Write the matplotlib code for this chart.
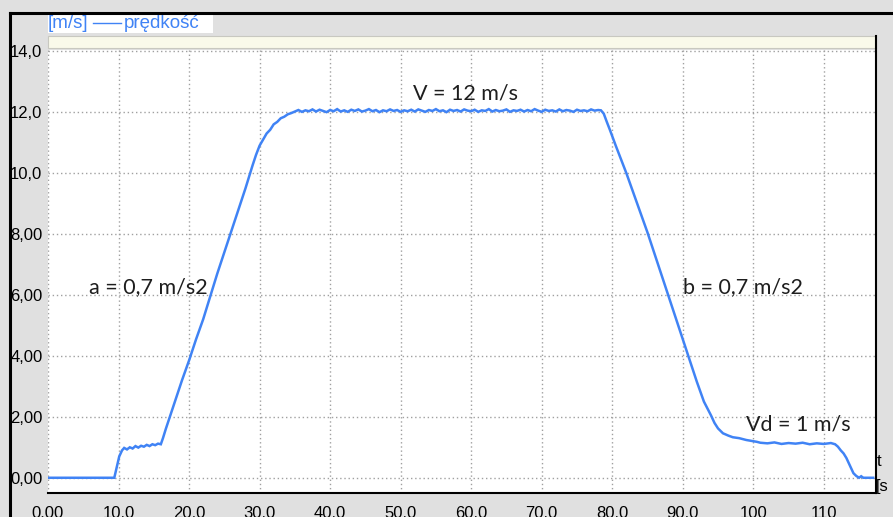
import matplotlib
matplotlib.use("Agg")
import matplotlib.pyplot as plt
from matplotlib.patches import Rectangle
from matplotlib.lines import Line2D

# przebieg predkosci
t_start = [0, 9.4, 9.7, 10.1, 10.5, 10.8, 11.2, 11.6, 12.0, 12.4, 12.8, 13.2, 13.6,
           14.0, 14.4, 14.8, 15.2, 15.6, 16.0, 16.3, 16.7, 17.2, 18.0, 19.0, 20.0,
           21.0, 22.0, 23.0, 24.0, 25.0, 26.0, 27.0, 28.0, 29.0, 29.5, 30.0, 30.5,
           31.0, 31.5, 32.0, 32.5, 33.0, 33.5, 34.0, 34.5]
v_start = [0, 0, 0.3, 0.7, 0.9, 0.98, 0.93, 1.0, 0.96, 1.04, 0.99, 1.05, 1.02,
           1.08, 1.04, 1.1, 1.07, 1.12, 1.1, 1.3, 1.6, 1.95, 2.5, 3.2, 3.85,
           4.55, 5.2, 5.95, 6.7, 7.4, 8.1, 8.8, 9.5, 10.25, 10.6, 10.9, 11.1,
           11.3, 11.42, 11.6, 11.68, 11.8, 11.85, 11.93, 11.97]

t_flat = [35.0 + 0.5 * i for i in range(87)]
v_flat = [12.02, 12.07, 12.01, 12.06, 12.03, 12.09, 12.02, 12.08, 12.04, 12.0,
          12.07, 12.03, 12.1, 12.02, 12.06, 12.01, 12.08, 12.04, 12.09, 12.02,
          12.05, 12.1, 12.03, 12.07, 12.0, 12.06, 12.03, 12.09, 12.04, 12.07,
          12.01, 12.06, 12.03, 12.08, 12.02, 12.09, 12.05, 12.01, 12.07, 12.04,
          12.1, 12.03, 12.06, 12.0, 12.08, 12.04, 12.07, 12.02, 12.09, 12.05,
          12.03, 12.08, 12.01, 12.06, 12.04, 12.1, 12.02, 12.07, 12.03, 12.05,
          12.09, 12.01, 12.06, 12.04, 12.08, 12.02, 12.07, 12.03, 12.1, 12.05,
          12.01, 12.08, 12.04, 12.06, 12.02, 12.09, 12.03, 12.07, 12.05, 12.01,
          12.08, 12.04, 12.06, 12.03, 12.09, 12.05, 12.07]

t_end = [78.4, 78.8, 79.2, 79.7, 80.5, 81.3, 82.0, 83.0, 84.0, 85.0, 86.0, 87.0,
         88.0, 89.0, 90.0, 91.0, 92.0, 93.0, 94.0, 94.5, 95.0, 95.7, 96.5, 97.1,
         98.0, 99.0, 99.5, 100.5, 101.0, 102.0, 103.0, 104.0, 105.0, 106.0,
         107.0, 108.0, 109.0, 110.0, 111.0, 111.6, 112.0, 112.4, 112.8, 113.2,
         113.7, 114.2, 114.6, 115.0, 115.3, 115.6, 117.0]
v_end = [12.06, 11.95, 11.7, 11.4, 10.9, 10.42, 10.0, 9.35, 8.7, 8.05, 7.35, 6.65,
         5.95, 5.25, 4.55, 3.85, 3.15, 2.5, 2.05, 1.8, 1.62, 1.46, 1.38, 1.33,
         1.3, 1.24, 1.22, 1.18, 1.15, 1.13, 1.16, 1.11, 1.14, 1.12, 1.15, 1.1,
         1.13, 1.11, 1.14, 1.1, 1.02, 0.9, 0.8, 0.65, 0.4, 0.15, 0.06, 0.0, 0.05,
         0.0, 0.0]

t = t_start + t_flat + t_end
v = v_start + v_flat + v_end

x_ticks = [0, 10, 20, 30, 40, 50, 60, 70, 80, 90, 100, 110]
x_labels = ["0.00", "10.0", "20.0", "30.0", "40.0", "50.0", "60.0", "70.0",
            "80.0", "90.0", "100", "110"]
y_ticks = [0, 2, 4, 6, 8, 10, 12, 14]
y_labels = ["0,00", "2,00", "4,00", "6,00", "8,00", "10,0", "12,0", "14,0"]

notes = ["V = 12 m/s", "a = 0,7 m/s2", "b = 0,7 m/s2", "Vd = 1 m/s"]
note_xy = [(51.8, 12.6), (5.8, 6.25), (90.0, 6.25), (98.9, 1.75)]

W, H = 893, 517
BG = "#e0e0e0"
BLUE = "#4083f5"

fig = plt.figure(figsize=(W / 100, H / 100), dpi=100, facecolor=BG)
ax = fig.add_axes([48 / W, (H - 493) / H, (876 - 48) / W, (493 - 50) / H])
ax.set_facecolor("white")

ax.plot(t, v, color=BLUE, lw=1.8, solid_joinstyle="miter")

ax.set_xlim(0, 117.4)
ax.set_ylim(-0.5, 14.04)
ax.set_xticks(x_ticks)
ax.set_xticklabels(x_labels)
ax.set_yticks(y_ticks)
ax.set_yticklabels(y_labels)
ax.tick_params(length=0, labelsize=12, pad=4)
ax.tick_params(axis="x", pad=9)
for lab in ax.get_xticklabels() + ax.get_yticklabels():
    lab.set_fontfamily("Liberation Sans")
ax.grid(True, color="#a0a0a0", linestyle=(0, (1, 2)), lw=1)

for s in ["top", "left"]:
    ax.spines[s].set_visible(False)
for s in ["bottom", "right"]:
    ax.spines[s].set_color("black")
    ax.spines[s].set_linewidth(1.5)

for txt, (x, y) in zip(notes, note_xy):
    ax.text(x, y, txt, fontsize=15.5, family="Lato", color="#1e1e1e",
            va="center", ha="left")

# ramka okna
fig.add_artist(Line2D([10 / W, 1], [1 - 13 / H, 1 - 13 / H], color="black", lw=2.2))
fig.add_artist(Line2D([10 / W, 10 / W], [0, 1 - 13 / H], color="black", lw=2.2))

# pasek nad wykresem
fig.add_artist(Rectangle((48 / W, 1 - 48 / H), (876 - 48) / W, 12 / H,
                         facecolor="#f9f9ea", edgecolor="#c8c8c0", lw=0.8))
fig.add_artist(Line2D([876 / W, 876 / W], [1 - 36 / H, 1 - 48 / H], color="black", lw=1.5))

# legenda
fig.add_artist(Rectangle((48 / W, 1 - 33 / H), (213 - 48) / W, 19 / H,
                         facecolor="white", edgecolor="none"))
fig.text(48 / W, 1 - 23.5 / H, "[m/s]", color=BLUE, fontsize=13.5,
         family="Liberation Sans", va="center")
fig.add_artist(Line2D([93 / W, 121 / W], [1 - 23 / H, 1 - 23 / H], color=BLUE, lw=1))
fig.text(124 / W, 1 - 23.5 / H, "prędkość", color=BLUE, fontsize=13.5,
         family="Liberation Sans", va="center")

fig.text(877 / W, 1 - 462 / H, "t", fontsize=12, family="Liberation Sans", va="center")
fig.text(876 / W, 1 - 486 / H, "[s", fontsize=12, family="Liberation Sans", va="center")

fig.savefig("out.png", dpi=100, facecolor=BG)
